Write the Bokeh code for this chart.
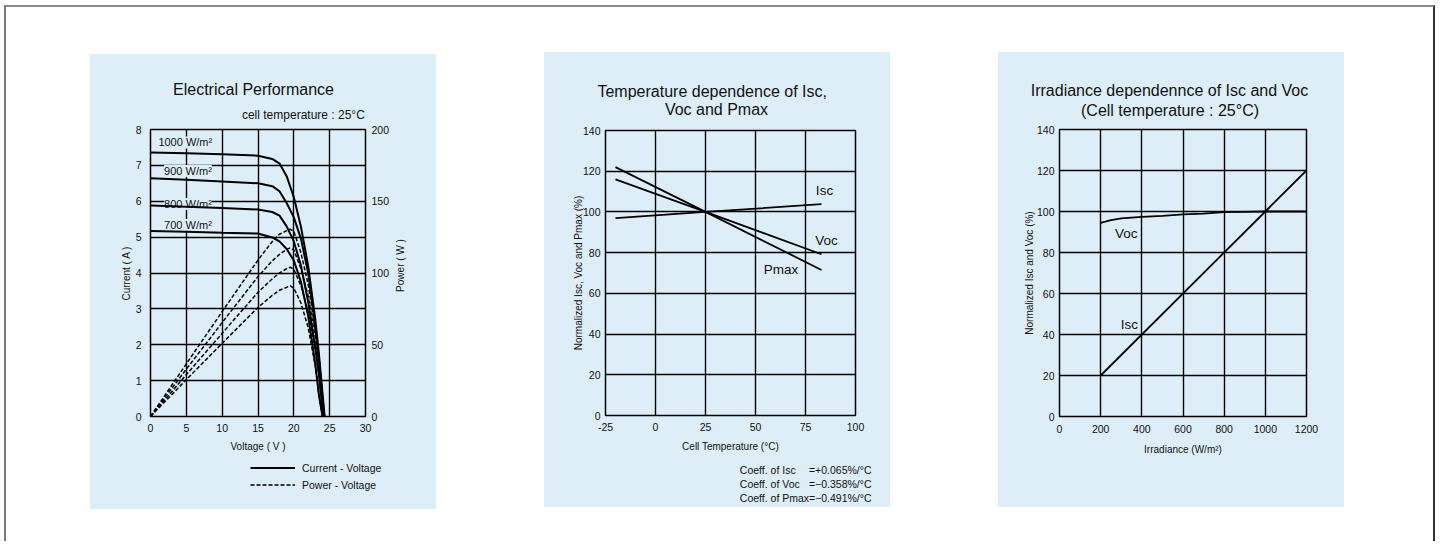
import math
from bokeh.plotting import figure
from bokeh.models import Range1d, LinearAxis, FixedTicker, Label, Legend, LegendItem
from bokeh.layouts import row, column
from bokeh.core.properties import value
from bokeh.embed import file_html
from bokeh.resources import INLINE

BG = "#deeef9"
SANS = "Liberation Sans"
INK = "#111111"
DASH = "4 2"

# ---------------- Panel 1 data: Electrical Performance ----------------
irr_labels = ["1000 W/m²", "900 W/m²", "800 W/m²", "700 W/m²"]
irr_label_x = [1.1, 1.9, 1.9, 1.9]
irr_label_y = [7.64, 6.84, 5.92, 5.34]

v_iv_1000 = [0, 5, 10, 15, 17, 18, 19, 20, 21, 22, 23, 23.5, 24.3]
i_1000 = [7.36, 7.34, 7.31, 7.27, 7.18, 7.05, 6.70, 6.11, 5.28, 4.20, 2.70, 1.75, 0]
v_iv_900 = [0, 5, 10, 15, 17, 18, 19, 20, 21, 22, 23, 23.5, 24.2]
i_900 = [6.64, 6.60, 6.55, 6.50, 6.42, 6.28, 5.95, 5.55, 4.95, 4.00, 2.50, 1.60, 0]
v_iv_800 = [0, 5, 10, 15, 17, 18, 19, 20, 21, 22, 23, 23.5, 24.1]
i_800 = [5.88, 5.85, 5.81, 5.77, 5.70, 5.60, 5.30, 4.88, 4.20, 3.20, 1.90, 1.20, 0]
v_iv_700 = [0, 5, 10, 15, 17, 18, 19, 20, 21, 22, 23, 23.5, 24.0]
i_700 = [5.17, 5.15, 5.12, 5.10, 4.99, 4.88, 4.67, 4.35, 3.75, 2.80, 1.45, 0.60, 0]

v_pv_1000 = [0, 5, 10, 15, 17, 18, 19, 19.5, 20, 21, 22, 23, 23.5, 24.3]
p_1000 = [0, 36.7, 73.1, 109, 122, 127, 129.5, 130.5, 129, 114, 92, 60, 40, 0]
v_pv_900 = [0, 5, 10, 15, 17, 18, 19, 19.5, 20, 21, 22, 23, 23.5, 24.2]
p_900 = [0, 33, 65.5, 97.5, 108.5, 113, 116.5, 117.5, 116, 103, 84, 55, 36, 0]
v_pv_800 = [0, 5, 10, 15, 17, 18, 19, 19.5, 20, 21, 22, 23, 23.5, 24.1]
p_800 = [0, 29.2, 58, 86.5, 96, 100, 103, 104, 102.5, 91, 73, 46, 28, 0]
v_pv_700 = [0, 5, 10, 15, 17, 18, 19, 19.5, 20, 21, 22, 23, 23.5, 24.0]
p_700 = [0, 25.7, 51, 76, 84.5, 88, 90, 91, 89.5, 79, 62, 35, 15, 0]

p1_xticks = [0, 5, 10, 15, 20, 25, 30]
p1_yticks = [0, 1, 2, 3, 4, 5, 6, 7, 8]
p1_power_ticks = [0, 50, 100, 150, 200]
legend_labels = ["Current - Voltage", "Power - Voltage"]

# ---------------- Panel 2 data: Temperature dependence ----------------
temp = [-20, 25, 83]
isc_t = [97.0, 100, 103.8]
voc_t = [116.0, 100, 79.2]
pmax_t = [122.0, 100, 71.5]
p2_xticks = [-25, 0, 25, 50, 75, 100]
p2_yticks = [0, 20, 40, 60, 80, 100, 120, 140]
coeff_names = ["Coeff. of Isc", "Coeff. of Voc", "Coeff. of Pmax"]
coeff_values = ["=+0.065%/°C", "=\u22120.358%/°C", "=\u22120.491%/°C"]

# ---------------- Panel 3 data: Irradiance dependence ----------------
irr_isc = [200, 1200]
isc_irr = [20, 120]
irr_voc = [200, 250, 300, 400, 500, 600, 700, 800, 900, 1000, 1200]
voc_irr = [94.4, 95.8, 96.6, 97.4, 97.9, 98.6, 99.0, 99.7, 99.8, 100, 100]
p3_xticks = [0, 200, 400, 600, 800, 1000, 1200]
p3_yticks = [0, 20, 40, 60, 80, 100, 120, 140]


def style(p):
    p.background_fill_color = BG
    p.border_fill_color = BG
    p.outline_line_color = "black"
    p.outline_line_width = 1.5
    p.grid.grid_line_color = "black"
    p.grid.grid_line_width = 1.4
    for ax in p.axis:
        ax.axis_line_color = None
        ax.major_tick_line_color = None
        ax.minor_tick_line_color = None
        ax.major_tick_out = 0
        ax.major_tick_in = 0
        ax.minor_tick_out = 0
        ax.minor_tick_in = 0
        ax.major_label_text_font = SANS
        ax.major_label_text_font_size = "10.5px"
        ax.major_label_text_color = INK
        ax.axis_label_text_font = SANS
        ax.axis_label_text_font_size = "10px"
        ax.axis_label_text_font_style = "normal"
        ax.axis_label_text_color = INK


def strip(w, h):
    s = figure(width=w, height=h, x_range=Range1d(0, w), y_range=Range1d(0, h),
               output_backend="svg", toolbar_location=None, min_border=0,
               x_axis_location=None, y_axis_location=None)
    s.background_fill_alpha = 0
    s.border_fill_alpha = 0
    s.outline_line_color = None
    s.grid.visible = False
    s.title.visible = False
    return s


def stext(s, x, y, texts, size, align="center", angle=0.0):
    s.text(x=x, y=y, text=texts, text_font=value(SANS), text_font_size=value(size),
           text_align=value(align), text_baseline=value("middle"), text_color=INK,
           angle=angle)


def label(p, x, y, text, size="13.5px", align="center", bg=None, level="annotation"):
    lb = Label(x=x, y=y, text=text, text_font=SANS, text_font_size=size,
               text_align=align, text_baseline="middle", text_color=INK, level=level)
    if bg is not None:
        lb.background_fill_color = bg
    p.add_layout(lb)


def chart(w, h, xr, yr, left, right, top, bottom):
    p = figure(width=w, height=h, x_range=xr, y_range=yr, output_backend="svg",
               toolbar_location=None, min_border_left=left, min_border_right=right,
               min_border_top=top, min_border_bottom=bottom)
    p.title.visible = False
    return p


PANEL_STYLE = {"background-color": BG}

# ---------------- Panel 1 ----------------
top1 = strip(346, 70)
stext(top1, [163], [35], ["Electrical Performance"], "16px")
stext(top1, [274.3], [10], ["cell temperature : 25°C"], "12px", align="right")

p1 = chart(302, 332, Range1d(0, 30), Range1d(0, 8), 60, 27, 5, 40)
p1.extra_y_ranges = {"power": Range1d(0, 200)}
p1.add_layout(LinearAxis(y_range_name="power", ticker=FixedTicker(ticks=p1_power_ticks)), "right")
p1.xaxis.ticker = FixedTicker(ticks=p1_xticks)
p1.yaxis[0].ticker = FixedTicker(ticks=p1_yticks)
p1.xaxis.axis_label = "Voltage ( V )"
p1.yaxis[0].axis_label = "Current ( A )"
style(p1)
p1.xaxis.major_label_standoff = 7
p1.xaxis.axis_label_standoff = 6
p1.yaxis[0].major_label_standoff = 9
p1.yaxis[0].axis_label_standoff = 1
p1.yaxis[1].major_label_standoff = 6

for lab, lx, ly in zip(irr_labels, irr_label_x, irr_label_y):
    label(p1, lx, ly, lab, size="11px", align="left", bg=BG, level="underlay")

iv_sets = [(v_iv_1000, i_1000), (v_iv_900, i_900), (v_iv_800, i_800), (v_iv_700, i_700)]
pv_sets = [(v_pv_1000, p_1000), (v_pv_900, p_900), (v_pv_800, p_800), (v_pv_700, p_700)]
for vx, iy in iv_sets:
    p1.line(vx, iy, line_color="black", line_width=2.0)
for vx, py in pv_sets:
    p1.line(vx, py, y_range_name="power", line_color="black", line_width=1.5, line_dash=DASH)

right1 = strip(44, 332)
stext(right1, [8], [191], ["Power ( W )"], "10px", angle=math.pi / 2)

bot1 = strip(346, 53)
r_solid = bot1.line([-20, -10], [-20, -20], line_color="black", line_width=2.0)
r_dash = bot1.line([-20, -10], [-20, -20], line_color="black", line_width=1.5, line_dash=DASH)
leg = Legend(items=[LegendItem(label=legend_labels[0], renderers=[r_solid]),
                    LegendItem(label=legend_labels[1], renderers=[r_dash])],
             location=(160, 15.8), orientation="vertical",
             glyph_width=45, glyph_height=17, label_height=17, spacing=0, padding=0,
             margin=0, label_standoff=7, label_text_font=SANS,
             label_text_font_size="10.5px", label_text_color=INK,
             background_fill_alpha=0, border_line_color=None)
bot1.add_layout(leg)

panel1 = column(top1, row(p1, column(right1)), bot1, margin=(47, 0, 32, 84),
                styles=PANEL_STYLE)

# ---------------- Panel 2 ----------------
top2 = strip(346, 72)
stext(top2, [167.7], [33.3], ["Temperature dependence of Isc,"], "16px")
stext(top2, [172], [14.7], ["Voc and Pmax"], "16px")

p2 = chart(346, 331, Range1d(-25, 100), Range1d(0, 140), 61, 35, 6, 40)
p2.xaxis.ticker = FixedTicker(ticks=p2_xticks)
p2.xaxis.major_label_overrides = {-25: "-25"}
p2.yaxis.ticker = FixedTicker(ticks=p2_yticks)
p2.xaxis.axis_label = "Cell Temperature (°C)"
p2.yaxis.axis_label = "Normalized Isc, Voc and Pmax (%)"
style(p2)
p2.xaxis.major_label_standoff = 7
p2.xaxis.axis_label_standoff = 7
p2.yaxis.major_label_standoff = 5
p2.yaxis.axis_label_standoff = -4

p2.line(temp, isc_t, line_color="black", line_width=1.8)
p2.line(temp, voc_t, line_color="black", line_width=1.8)
p2.line(temp, pmax_t, line_color="black", line_width=1.8)
label(p2, 84.5, 110.5, "Isc")
label(p2, 85.5, 86, "Voc")
label(p2, 62.8, 71.8, "Pmax")

bot2 = strip(346, 52)
stext(bot2, [195.3, 195.3, 195.3], [37.7, 23.3, 10], coeff_names, "10.5px", align="left")
stext(bot2, [327, 327, 327], [37.7, 23.3, 10], coeff_values, "10.5px", align="right")

panel2 = column(top2, row(p2), bot2, margin=(45, 0, 34, 108), styles=PANEL_STYLE)

# ---------------- Panel 3 ----------------
top3 = strip(346, 72)
stext(top3, [171], [34], ["Irradiance dependennce of Isc and Voc"], "16px")
stext(top3, [171.5], [14], ["(Cell temperature : 25°C)"], "16px")

p3 = chart(346, 333, Range1d(0, 1200), Range1d(0, 140), 61, 38, 5, 40)
p3.xaxis.ticker = FixedTicker(ticks=p3_xticks)
p3.yaxis.ticker = FixedTicker(ticks=p3_yticks)
p3.xaxis.axis_label = "Irradiance (W/m²)"
p3.yaxis.axis_label = "Normalized Isc and Voc (%)"
style(p3)
p3.xaxis.major_label_standoff = 8
p3.xaxis.axis_label_standoff = 8
p3.yaxis.major_label_standoff = 5
p3.yaxis.axis_label_standoff = -1

p3.line(irr_isc, isc_irr, line_color="black", line_width=1.8)
p3.line(irr_voc, voc_irr, line_color="black", line_width=1.8)
label(p3, 324, 89.2, "Voc")
label(p3, 340, 44.8, "Isc")

bot3 = strip(346, 50)

panel3 = column(top3, row(p3), bot3, margin=(45, 89, 34, 108), styles=PANEL_STYLE)

root = row(panel1, panel2, panel3, styles={"border-left": "2px solid #7a7a7a",
                                           "border-top": "2px solid #8a8a8a",
                                           "border-right": "2px solid #333333",
                                           "margin-left": "4px", "margin-top": "5px"})

open("out.html", "w").write(file_html(root, INLINE))
